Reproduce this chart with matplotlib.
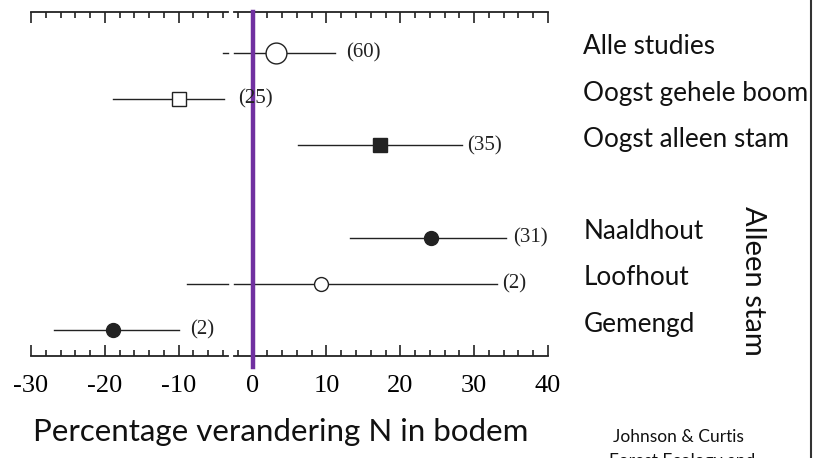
import matplotlib.pyplot as plt

plt.rcParams["axes.unicode_minus"] = False

# rows of the forest plot (top to bottom), row 3 is left empty
groups = ["Alle studies", "Oogst gehele boom", "Oogst alleen stam",
          "Naaldhout", "Loofhout", "Gemengd"]
rows = [0, 1, 2, 4, 5, 6]
mean = [3.2, -10.0, 17.3, 24.2, 9.2, -18.9]
lo = [-4.0, -18.9, 6.2, 13.2, -8.9, -26.9]
hi = [11.1, -3.9, 28.3, 34.3, 33.1, -10.0]
n_studies = ["(60)", "(25)", "(35)", "(31)", "(2)", "(2)"]
markers = ["o", "s", "s", "o", "o", "o"]
filled = [False, False, True, True, False, True]
msize = [15, 9.5, 9.5, 10, 10, 10]
label_gap = [1.5, 1.9, 0.7, 1.0, 0.7, 1.5]

xmin, xmax = -30, 40
ytop, ybot = -0.89, 6.56
gap = (-3.3, -2.5)   # little break in the scanned axis
ink = "#222222"

fig = plt.figure(figsize=(8.14, 4.58), dpi=100)
ax = fig.add_axes([31/814, 102/458, 517/814, 344/458])
ax.set_xlim(xmin, xmax)
ax.set_ylim(ybot, ytop)
for s in ax.spines.values():
    s.set_visible(False)


def seg(x0, x1, y, **kw):
    # draw a horizontal segment, broken where it crosses the gap
    if x0 < gap[0] and x1 > gap[1]:
        ax.plot([x0, gap[0]], [y, y], **kw)
        ax.plot([gap[1], x1], [y, y], **kw)
    else:
        ax.plot([x0, x1], [y, y], **kw)


# top and bottom axis lines
for yy in (ytop, ybot):
    seg(xmin, xmax, yy, color=ink, lw=1.3, clip_on=False)

ax.set_xticks(range(xmin, xmax + 1, 10))
ax.set_xticks(range(xmin, xmax + 1, 2), minor=True)
ax.tick_params(axis="x", which="both", direction="in", top=True, bottom=True,
               color=ink, width=1.2, labelsize=19, pad=14)
ax.tick_params(axis="x", which="major", length=8)
ax.tick_params(axis="x", which="minor", length=4)
ax.set_yticks([])
for t in ax.get_xticklabels():
    t.set_family("Liberation Serif")

# zero line
ax.plot([0, 0], [ytop, ybot + 0.24], color="#7030A0", lw=3.2, clip_on=False, zorder=5)

for i in range(len(rows)):
    y = rows[i]
    seg(lo[i], hi[i], y, color=ink, lw=1.0, zorder=3)
    ax.plot(mean[i], y, marker=markers[i], ms=msize[i], mec=ink, mew=1.0,
            mfc=ink if filled[i] else "white", zorder=6, ls="none")
    ax.text(hi[i] + label_gap[i], y, n_studies[i], family="Liberation Serif",
            fontsize=15, va="center", ha="left", color=ink, zorder=7)
    ax.text(44.8, y + 0.03, groups[i], family="Lato", fontsize=18.8,
            va="baseline", ha="left", color="#111111", clip_on=False)

fig.text(753/814, 1 - 281/458, "Alleen stam", family="Lato", fontsize=21,
         rotation=270, ha="center", va="center", color="#111111")
fig.text(281/814, 1 - 432/458, "Percentage verandering N in bodem",
         family="Lato", fontsize=22.5, ha="center", va="center", color="#111111")
fig.text(678/814, 1 - 437/458, "Johnson & Curtis", family="Lato",
         fontsize=12.5, ha="center", va="center", color="#111111")
fig.text(682/814, 1 - 453/458, "Forest Ecology and", family="Lato",
         fontsize=12.5, ha="center", va="top", color="#111111")

# frame edge on the right
fig.add_artist(plt.Line2D([811/814, 811/814], [0, 1], color="#333333", lw=1.5))

fig.savefig("out.png", dpi=100)
